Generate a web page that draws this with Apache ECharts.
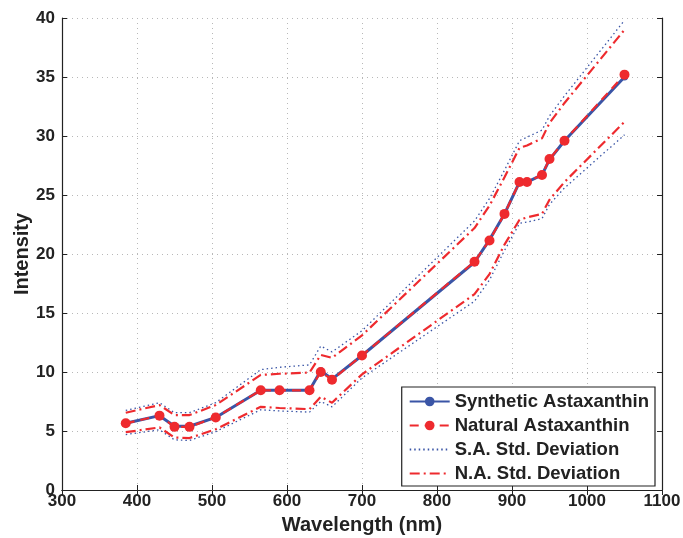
<!DOCTYPE html>
<html>
<head>
<meta charset="utf-8">
<script src="https://cdn.jsdelivr.net/npm/echarts@6/dist/echarts.min.js"></script>
<style>html,body{margin:0;padding:0;background:#fff}#c{width:683px;height:538px}</style>
</head>
<body>
<div id="c"></div>
<script>
const wavelengths = [385, 430, 450, 470, 505, 565, 590, 630, 645, 660, 700, 850, 870, 890, 910, 920, 940, 950, 970, 1050];
const synthetic   = [5.65, 6.3, 5.4, 5.4, 6.15, 8.45, 8.45, 8.45, 10.1, 9.4, 11.4, 19.3, 21.2, 23.4, 26.1, 26.1, 26.7, 28.0, 29.6, 35.0];
const natural     = [5.65, 6.3, 5.35, 5.35, 6.15, 8.45, 8.45, 8.45, 10.0, 9.35, 11.4, 19.35, 21.15, 23.4, 26.1, 26.1, 26.7, 28.05, 29.6, 35.2];
const saUpper     = [6.75, 7.4, 6.55, 6.55, 7.4, 10.2, 10.4, 10.6, 12.2, 11.7, 13.5, 22.8, 24.7, 27.1, 29.6, 29.9, 30.5, 31.7, 33.4, 39.8];
const saLower     = [4.7, 5.1, 4.25, 4.2, 4.95, 6.8, 6.7, 6.6, 7.5, 7.05, 9.5, 16.0, 17.8, 20.3, 22.6, 22.7, 23.0, 24.2, 25.6, 30.1];
const naUpper     = [6.55, 7.2, 6.35, 6.35, 7.2, 9.75, 9.85, 9.95, 11.45, 11.2, 13.1, 22.2, 24.1, 26.5, 29.0, 29.2, 29.8, 31.1, 32.8, 39.0];
const naLower     = [4.9, 5.3, 4.45, 4.4, 5.15, 7.05, 6.95, 6.85, 7.9, 7.4, 9.8, 16.6, 18.3, 20.8, 22.9, 23.1, 23.4, 24.6, 26.1, 31.2];
const xTicks = [300, 400, 500, 600, 700, 800, 900, 1000, 1100];
const yTicks = [0, 5, 10, 15, 20, 25, 30, 35, 40];

const pairs = arr => wavelengths.map((w, i) => [w, arr[i]]);
const BLUE = '#3a55a6', RED = '#ee2a2e';
const FONT = 'Liberation Sans';

const chart = echarts.init(document.getElementById('c'), null, {renderer: 'canvas'});
const gridLine = {show: true, lineStyle: {color: '#b8b8b8', type: [1, 4], width: 1}};
const tick = {show: true, inside: true, length: 5, lineStyle: {color: '#222'}};
const plain = v => String(v);
chart.setOption({
  animation: false,
  backgroundColor: '#fff',
  grid: {left: 62, right: 21, top: 18, bottom: 48, containLabel: false, outerBoundsMode: 'none'},
  xAxis: [{
    type: 'value', min: xTicks[0], max: xTicks[xTicks.length - 1], interval: 100,
    name: 'Wavelength (nm)', nameLocation: 'middle', nameGap: 25,
    nameTextStyle: {fontFamily: FONT, fontWeight: 'bold', fontSize: 20, color: '#222'},
    axisLine: {lineStyle: {color: '#222', width: 1.2}},
    axisTick: tick, splitLine: gridLine,
    axisLabel: {fontFamily: FONT, fontWeight: 'bold', fontSize: 17, color: '#222', margin: 3, formatter: plain}
  }, {
    type: 'value', position: 'top', min: xTicks[0], max: xTicks[xTicks.length - 1], interval: 100,
    axisLine: {show: true, lineStyle: {color: '#222', width: 1.2}},
    axisTick: tick, axisLabel: {show: false}, splitLine: {show: false}
  }],
  yAxis: [{
    type: 'value', min: yTicks[0], max: yTicks[yTicks.length - 1], interval: 5,
    name: 'Intensity', nameLocation: 'middle', nameGap: 30, nameMoveOverlap: false,
    nameTextStyle: {fontFamily: FONT, fontWeight: 'bold', fontSize: 20, color: '#222'},
    axisLine: {show: true, lineStyle: {color: '#222', width: 1.2}},
    axisTick: tick, splitLine: gridLine,
    axisLabel: {fontFamily: FONT, fontWeight: 'bold', fontSize: 17, color: '#222', margin: 7, formatter: plain}
  }, {
    type: 'value', position: 'right', min: yTicks[0], max: yTicks[yTicks.length - 1], interval: 5,
    axisLine: {show: true, lineStyle: {color: '#222', width: 1.2}},
    axisTick: tick, axisLabel: {show: false}, splitLine: {show: false}
  }],
  legend: {
    orient: 'vertical', right: 28, top: 387,
    backgroundColor: '#fff', borderColor: '#222', borderWidth: 1.2, borderRadius: 0,
    padding: [5, 6, 3, 7], itemGap: 5, itemWidth: 40, itemHeight: 12,
    textStyle: {fontFamily: FONT, fontWeight: 'bold', fontSize: 18.5, lineHeight: 18, color: '#222'},
    data: [
      {name: 'Synthetic Astaxanthin'},
      {name: 'Natural Astaxanthin'},
      {name: 'S.A. Std. Deviation', itemStyle: {opacity: 0}},
      {name: 'N.A. Std. Deviation', itemStyle: {opacity: 0}}
    ]
  },
  series: [
    {name: 'S.A. Std. Deviation', type: 'line', data: pairs(saUpper), symbol: 'none', silent: true,
     lineStyle: {color: BLUE, width: 1.3, type: [1.5, 3]}, itemStyle: {color: BLUE}, z: 2},
    {name: 'S.A. Std. Deviation', type: 'line', data: pairs(saLower), symbol: 'none', silent: true,
     lineStyle: {color: BLUE, width: 1.3, type: [1.5, 3]}, itemStyle: {color: BLUE}, z: 2},
    {name: 'N.A. Std. Deviation', type: 'line', data: pairs(naUpper), symbol: 'none', silent: true,
     lineStyle: {color: RED, width: 2.2, type: [10, 4, 2, 4]}, itemStyle: {color: RED}, z: 3},
    {name: 'N.A. Std. Deviation', type: 'line', data: pairs(naLower), symbol: 'none', silent: true,
     lineStyle: {color: RED, width: 2.2, type: [10, 4, 2, 4]}, itemStyle: {color: RED}, z: 3},
    {name: 'Synthetic Astaxanthin', type: 'line', data: pairs(synthetic), symbol: 'circle', symbolSize: 7,
     lineStyle: {color: BLUE, width: 3}, itemStyle: {color: BLUE}, z: 4},
    {name: 'Natural Astaxanthin', type: 'line', data: pairs(natural), symbol: 'circle', symbolSize: 10,
     lineStyle: {color: RED, width: 2.2, type: [9, 6]}, itemStyle: {color: RED}, z: 5}
  ]
});
</script>
</body>
</html>
